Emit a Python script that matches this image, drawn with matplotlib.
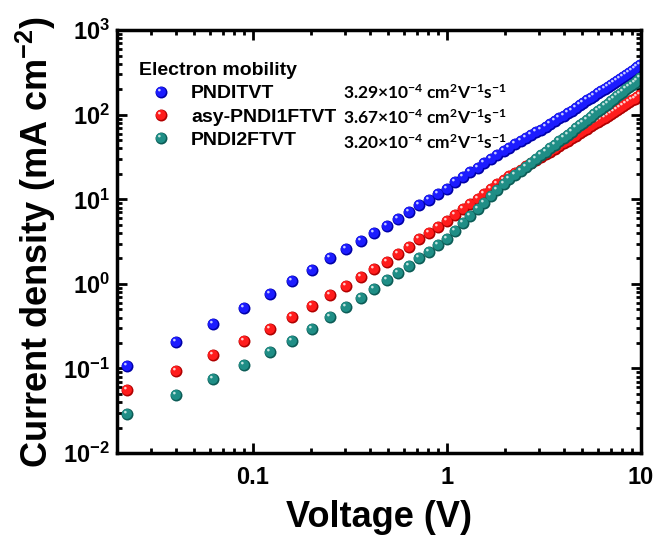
import numpy as np
import matplotlib
matplotlib.use("Agg")
import matplotlib.pyplot as plt
from matplotlib.path import Path
from matplotlib.markers import MarkerStyle
from matplotlib.legend_handler import HandlerTuple
from matplotlib.ticker import FixedLocator, LogLocator, NullFormatter

# ---- data ----
voltage = [0.0225, 0.04, 0.0625, 0.09, 0.1225, 0.16, 0.2025, 0.25, 0.3025, 0.36,
           0.4225, 0.49, 0.5625, 0.64, 0.7225, 0.81, 0.9025, 1.0, 1.1025, 1.21,
           1.3225, 1.44, 1.5625, 1.69, 1.8225, 1.96, 2.1025, 2.25, 2.4025, 2.56,
           2.7225, 2.89, 3.0625, 3.24, 3.4225, 3.61, 3.8025, 4.0, 4.2025, 4.41,
           4.6225, 4.84, 5.0625, 5.29, 5.5225, 5.76, 6.0025, 6.25, 6.5025, 6.76,
           7.0225, 7.29, 7.5625, 7.84, 8.1225, 8.41, 8.7025, 9.0, 9.3025, 9.61,
           9.9225]

j_pnditvt = [0.108, 0.203, 0.334, 0.518, 0.76, 1.08, 1.48, 2.01, 2.57, 3.23,
             3.98, 4.85, 5.93, 7.17, 8.6, 9.9, 11.5, 13.3,
             16.0, 18.5, 21.0, 23.8, 26.8, 30.0, 33.5, 37.0, 40.8, 44.7,
             48.8, 53.0, 57.5, 62.0, 67.0, 72.5, 78.0, 84.5, 91.0,
             97.2, 105, 112, 121, 129, 138, 148, 158, 168, 179, 190, 201,
             214, 226, 239, 253, 267, 282, 297, 313, 330, 348, 366, 385]

j_asy = [0.056, 0.094, 0.145, 0.213, 0.295, 0.405, 0.55, 0.74, 0.955, 1.22,
         1.49, 1.82, 2.24, 2.76, 3.38, 4.0, 4.77, 5.6,
         6.58, 7.67, 8.85, 10.2, 11.6, 13.2, 15.0, 16.8, 18.7, 20.5,
         22.5, 24.5, 26.8, 29.1, 31.5, 34.1, 36.6, 39.7, 42.7,
         45.9, 49.4, 52.8, 56.6, 60.5, 64.4, 68.6, 73.1, 77.6, 82.4, 87.4, 92.5,
         97.9, 103, 109, 115, 121, 128, 134, 141, 148, 155, 163, 170]

j_2f = [0.029, 0.048, 0.075, 0.11, 0.155, 0.209, 0.29, 0.41, 0.53, 0.68,
        0.87, 1.1, 1.36, 1.65, 2.0, 2.4, 2.85, 3.4,
        4.25, 5.2, 6.3, 7.6, 9.1, 10.9, 12.9, 15.1, 17.4, 19.5,
        21.9, 24.4, 27.1, 30.1, 33.3, 36.7, 40.3, 44.5, 48.7,
        53.2, 58.3, 63.2, 69.0, 74.8, 80.9, 87.5, 94.6, 102, 110, 118, 126,
        136, 145, 155, 166, 176, 188, 200, 213, 225, 240, 254, 269]

names = ["PNDITVT", "asy-PNDI1FTVT", "PNDI2FTVT"]
mobility = ["3.29", "3.67", "3.20"]
series = [j_pnditvt, j_asy, j_2f]
# shades per ball: rim, body, highlight
shades = [("#0000a8", "#1c1cff", "#c8ccff"),
          ("#b00000", "#ff1c1c", "#ffd0d0"),
          ("#0c5c56", "#1f8e86", "#c4e4e0")]

xticks = [0.1, 1, 10]
xticklabels = ["0.1", "1", "10"]

plt.rcParams['font.family'] = ['Liberation Sans', 'DejaVu Sans']
plt.rcParams['font.weight'] = 'bold'
plt.rcParams['mathtext.default'] = 'regular'

MS = 8.6
# (cx, cy, r) of each layer of a shaded ball, in units of marker size
LAYERS = [(0.0, 0.0, 0.5), (-0.05, 0.05, 0.42), (-0.18, 0.2, 0.11)]


def ball_marker(cx, cy, r):
    p = Path.circle((cx, cy), r)
    m = np.max(np.abs(p.vertices))
    return MarkerStyle(p), 2 * m


fig = plt.figure(figsize=(6.62, 5.4), dpi=100)
ax = fig.add_axes([0.177, 0.161, 0.791, 0.783])

handles = []
for y, cols in zip(series, shades):
    parts = []
    for (cx, cy, r), col in zip(LAYERS, cols):
        mk, f = ball_marker(cx, cy, r)
        ln, = ax.plot(voltage, y, ls="none", marker=mk, ms=MS * f,
                      mfc=col, mec="none", mew=0)
        parts.append(ln)
    handles.append(tuple(parts))

ax.set_xscale("log")
ax.set_yscale("log")
ax.set_xlim(0.02, 10)
ax.set_ylim(1e-2, 1e3)
ax.xaxis.set_major_locator(FixedLocator(xticks))
ax.set_xticklabels(xticklabels)
ax.xaxis.set_minor_locator(LogLocator(base=10, subs=np.arange(2, 10)))
ax.xaxis.set_minor_formatter(NullFormatter())
ax.yaxis.set_minor_locator(LogLocator(base=10, subs=np.arange(2, 10), numticks=20))
ax.yaxis.set_minor_formatter(NullFormatter())

ax.tick_params(which="both", direction="in", top=True, right=True, width=2)
ax.tick_params(which="major", length=7, labelsize=17)
ax.tick_params(which="minor", length=3.5)
ax.tick_params(axis="x", which="major", pad=9)
ax.tick_params(axis="y", which="major", pad=5)
for sp in ax.spines.values():
    sp.set_linewidth(2.5)

ax.set_xlabel("Voltage (V)", fontsize=26, fontweight="bold", labelpad=8)
ax.set_ylabel("Current density (mA cm$^{-2}$)", fontsize=26,
              fontweight="bold", labelpad=4)

leg = ax.legend(handles, names, title="Electron mobility", loc="upper left",
                bbox_to_anchor=(0.041, 0.925), frameon=False,
                handler_map={tuple: HandlerTuple(ndivide=1)},
                prop={"size": 14, "weight": "bold"},
                title_fontproperties={"size": 14, "weight": "bold"},
                alignment="left", handletextpad=0.4, labelspacing=0.3,
                handlelength=2.3, borderaxespad=0, borderpad=0)

rows_y = [0.853, 0.794, 0.735]
for mu, yy in zip(mobility, rows_y):
    ax.text(0.431, yy, mu + r"$\times$10$^{-4}$ cm$^{2}$V$^{-1}$s$^{-1}$",
            transform=ax.transAxes, va="center", ha="left", fontsize=12.5,
            family=["Lato", "DejaVu Sans"], weight="bold")

fig.savefig("out.png", dpi=100)
